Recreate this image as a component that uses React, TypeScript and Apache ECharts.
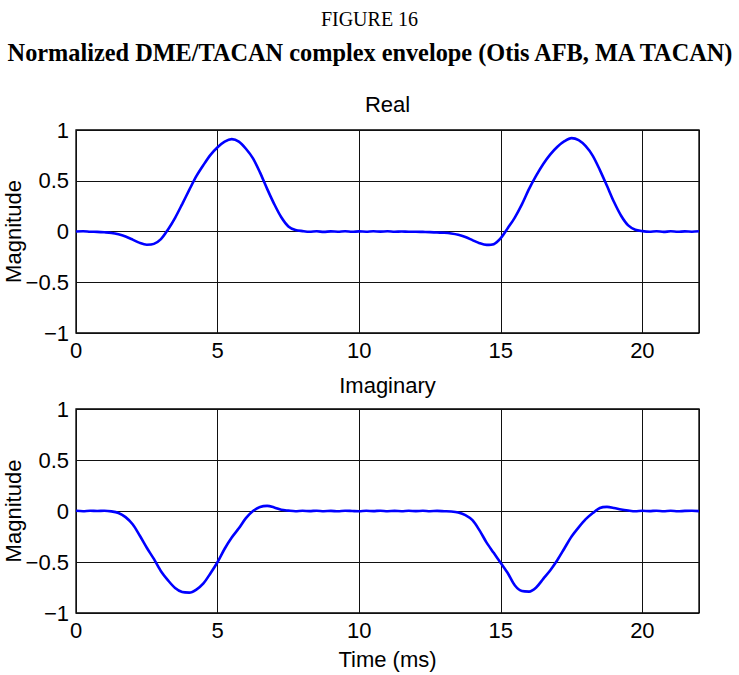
import React, { useEffect, useRef } from "react";
import * as echarts from "echarts";

const figureLabel = "FIGURE 16";
const figureTitle = "Normalized DME/TACAN complex envelope (Otis AFB, MA TACAN)";
const panelTitles = ["Real", "Imaginary"];
const yAxisTitle = "Magnitude";
const xAxisTitle = "Time (ms)";

// time in ms
const timeMs = [
  0, 0.25, 0.5, 0.75, 1, 1.25, 1.5, 1.75, 2, 2.25, 2.5, 2.75,
  3, 3.25, 3.5, 3.75, 4, 4.25, 4.5, 4.75, 5, 5.25, 5.5, 5.75,
  6, 6.25, 6.5, 6.75, 7, 7.25, 7.5, 7.75, 8, 8.25, 8.5, 8.75,
  9, 9.25, 9.5, 9.75, 10, 10.25, 10.5, 10.75, 11, 11.25, 11.5, 11.75,
  12, 12.25, 12.5, 12.75, 13, 13.25, 13.5, 13.75, 14, 14.25, 14.5, 14.75,
  15, 15.25, 15.5, 15.75, 16, 16.25, 16.5, 16.75, 17, 17.25, 17.5, 17.75,
  18, 18.25, 18.5, 18.75, 19, 19.25, 19.5, 19.75, 20, 20.25, 20.5, 20.75,
  21, 21.25, 21.5, 21.75, 22,
];

const realPart = [
  0.0, 0.003, -0.002, -0.004, -0.008, -0.014, -0.028, -0.05, -0.08, -0.112, -0.13, -0.122,
  -0.075, 0.02, 0.135, 0.27, 0.41, 0.545, 0.655, 0.755, 0.83, 0.885, 0.91, 0.885,
  0.815, 0.72, 0.58, 0.42, 0.27, 0.14, 0.05, 0.015, 0.004, -0.003, 0.002, -0.004,
  0.001, -0.002, 0.003, -0.003, 0.001, -0.002, 0.002, -0.001, 0.002, -0.002, 0.0, -0.003,
  -0.002, -0.004, -0.006, -0.01, -0.013, -0.02, -0.033, -0.055, -0.085, -0.115, -0.132, -0.125,
  -0.065, 0.035, 0.14, 0.27, 0.42, 0.55, 0.665, 0.76, 0.835, 0.89, 0.92, 0.9,
  0.84, 0.745, 0.605, 0.45, 0.29, 0.155, 0.06, 0.018, 0.004, -0.002, 0.003, -0.004,
  0.002, -0.003, 0.001, -0.002, 0.002,
];

const imagPart = [
  0.002, -0.002, 0.003, 0.0, 0.002, -0.004, -0.02, -0.06, -0.13, -0.24, -0.36, -0.47,
  -0.59, -0.68, -0.755, -0.795, -0.8, -0.77, -0.71, -0.61, -0.5, -0.37, -0.26, -0.17,
  -0.07, 0.0, 0.04, 0.05, 0.035, 0.012, 0.004, -0.002, 0.002, -0.001, 0.003, -0.002,
  0.001, -0.003, 0.002, 0.0, -0.002, 0.002, -0.001, 0.003, -0.002, 0.001, -0.002, 0.002,
  -0.001, 0.002, -0.002, 0.001, -0.002, -0.005, -0.015, -0.04, -0.09, -0.19, -0.31, -0.41,
  -0.51, -0.61, -0.73, -0.785, -0.79, -0.75, -0.665, -0.58, -0.48, -0.365, -0.25, -0.16,
  -0.08, -0.02, 0.03, 0.04, 0.03, 0.015, 0.005, -0.002, 0.002, -0.001, 0.003, -0.002,
  0.002, -0.003, 0.001, 0.002, -0.001,
];

const xMin = 0;
const xMax = 22;
const xStep = 5;
const yMin = -1;
const yMax = 1;
const yStep = 0.5;

const SANS = "'Liberation Sans', Arial, sans-serif";
const SERIF = "'Liberation Serif', 'Times New Roman', serif";
const FS = 22;

export default function App() {
  const ref = useRef<HTMLDivElement>(null);

  useEffect(() => {
    if (!ref.current) return;
    const chart = echarts.init(ref.current, null, { renderer: "svg" });

    const grids = [
      { left: 76, top: 130, width: 623, height: 203 },
      { left: 76, top: 409, width: 623, height: 204 },
    ];

    const yFmt = (v: number) => (v < 0 ? "\u2212" + String(Math.abs(v)) : String(v));

    const xAxes = grids.map((_, i) => ({
      type: "value",
      gridIndex: i,
      min: xMin,
      max: xMax,
      interval: xStep,
      axisLine: { show: false },
      axisTick: { show: false },
      axisLabel: {
        showMaxLabel: false,
        color: "#000",
        fontFamily: SANS,
        fontSize: FS,
        margin: 6,
      },
      splitLine: { show: true, lineStyle: { color: "#111", width: 1 } },
      name: i === 1 ? xAxisTitle : "",
      nameLocation: "middle",
      nameGap: 35,
      nameMoveOverlap: false,
      nameTextStyle: { color: "#000", fontFamily: SANS, fontSize: FS },
    }));

    const yAxes = grids.map((_, i) => ({
      type: "value",
      gridIndex: i,
      min: yMin,
      max: yMax,
      interval: yStep,
      axisLine: { show: false },
      axisTick: { show: false },
      axisLabel: {
        color: "#000",
        fontFamily: SANS,
        fontSize: FS,
        margin: 7,
        formatter: yFmt,
      },
      splitLine: { show: true, lineStyle: { color: "#111", width: 1 } },
      name: yAxisTitle,
      nameLocation: "middle",
      nameGap: 52,
      nameRotate: 90,
      nameMoveOverlap: false,
      nameTextStyle: { color: "#000", fontFamily: SANS, fontSize: FS },
    }));

    const toPairs = (vals: number[]) => timeMs.map((t, k) => [t, vals[k]]);

    chart.setOption({
      animation: false,
      backgroundColor: "#fff",
      grid: grids.map((g) => ({
        ...g,
        show: true,
        borderColor: "#000",
        borderWidth: 1.3,
        backgroundColor: "transparent",
        containLabel: false,
        outerBoundsMode: "none",
      })),
      xAxis: xAxes,
      yAxis: yAxes,
      series: [
        {
          type: "line",
          xAxisIndex: 0,
          yAxisIndex: 0,
          data: toPairs(realPart),
          symbol: "none",
          smooth: 0.3,
          lineStyle: { color: "#0000ff", width: 2.6 },
        },
        {
          type: "line",
          xAxisIndex: 1,
          yAxisIndex: 1,
          data: toPairs(imagPart),
          symbol: "none",
          smooth: 0.3,
          lineStyle: { color: "#0000ff", width: 2.6 },
        },
      ],
      graphic: [
        {
          type: "text",
          x: 369.5,
          y: 19,
          style: {
            text: figureLabel,
            fontFamily: SERIF,
            fontSize: 20,
            fill: "#000",
            align: "center",
            verticalAlign: "middle",
          },
        },
        {
          type: "text",
          x: 370,
          y: 52,
          style: {
            text: figureTitle,
            fontFamily: SERIF,
            fontSize: 24.3,
            fontWeight: "bold",
            fill: "#000",
            align: "center",
            verticalAlign: "middle",
          },
        },
        {
          type: "text",
          x: 387.5,
          y: 104,
          style: {
            text: panelTitles[0],
            fontFamily: SANS,
            fontSize: FS,
            fill: "#000",
            align: "center",
            verticalAlign: "middle",
          },
        },
        {
          type: "text",
          x: 387.5,
          y: 385,
          style: {
            text: panelTitles[1],
            fontFamily: SANS,
            fontSize: FS,
            fill: "#000",
            align: "center",
            verticalAlign: "middle",
          },
        },
      ],
    });

    return () => chart.dispose();
  }, []);

  return (
    <div
      ref={ref}
      style={{ position: "fixed", left: 0, top: 0, width: 739, height: 675, background: "#fff" }}
    />
  );
}
